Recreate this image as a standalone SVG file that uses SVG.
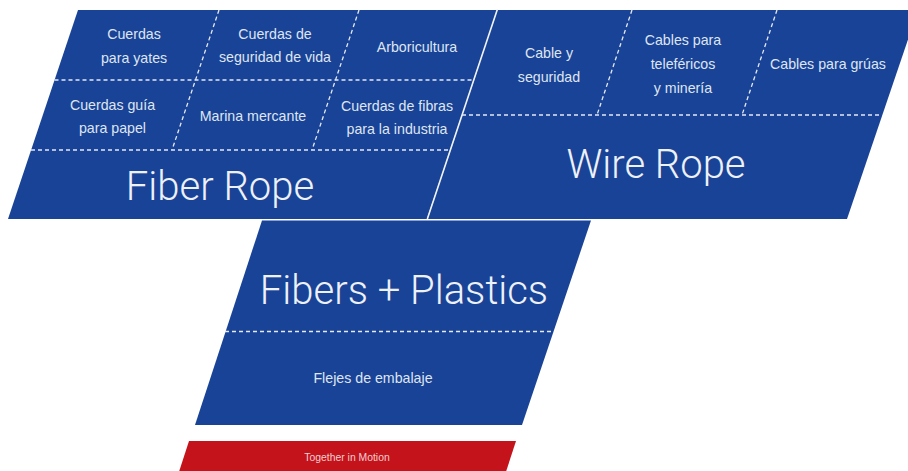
<svg xmlns="http://www.w3.org/2000/svg" width="908" height="471" viewBox="0 0 908 471">
<style>
.blue{fill:#194396}
.red{fill:#c4131a}
.dash{stroke:#e4e9f4;stroke-width:1.3;stroke-dasharray:4 3;fill:none}
.sep{stroke:#f2f4f8;stroke-width:1.6;fill:none}
.sm{font-family:"Liberation Sans",Arial,sans-serif;font-size:14.2px;fill:#dfe5f2;text-anchor:middle}
.big{font-family:Roboto,"Liberation Sans",sans-serif;font-weight:300;font-size:40px;fill:#eef1f8;text-anchor:middle}
.tag{font-family:"Liberation Sans",Arial,sans-serif;font-size:10.4px;fill:#f1d0d2;text-anchor:middle}
</style>
<rect width="908" height="471" fill="#ffffff"/>
<g id="fiber-rope">
<polygon class="blue" points="78,10 497,10 427,219 8,219"/>
<text class="sm" x="134" y="39">Cuerdas</text>
<text class="sm" x="134" y="63">para yates</text>
<text class="sm" x="275" y="39">Cuerdas de</text>
<text class="sm" x="275" y="62">seguridad de vida</text>
<text class="sm" x="417" y="51.5">Arboricultura</text>
<text class="sm" x="112.5" y="109.5">Cuerdas guía</text>
<text class="sm" x="112.5" y="133">para papel</text>
<text class="sm" x="253" y="121">Marina mercante</text>
<text class="sm" x="397" y="111">Cuerdas de fibras</text>
<text class="sm" x="397" y="134">para la industria</text>
<text class="big" x="220" y="200">Fiber Rope</text>
</g>
<g id="wire-rope">
<polygon class="blue" points="497,10 918,10 847,219 427,219"/>
<text class="sm" x="549" y="58">Cable y</text>
<text class="sm" x="549" y="82">seguridad</text>
<text class="sm" x="683" y="45">Cables para</text>
<text class="sm" x="683" y="69">teleféricos</text>
<text class="sm" x="683" y="93">y minería</text>
<text class="sm" x="828" y="68.5">Cables para grúas</text>
<text class="big" x="656" y="178">Wire Rope</text>
</g>
<g id="fibers-plastics">
<polygon class="blue" points="262,220.5 591,220.5 522,425 195,425"/>
<text class="big" x="404" y="304">Fibers + Plastics</text>
<text class="sm" x="373" y="382.5">Flejes de embalaje</text>
</g>
<g id="together-in-motion">
<polygon class="red" points="189,441 516,441 503,481 176,481"/>
<text class="tag" x="347" y="460.5">Together in Motion</text>
</g>
<g id="connectors">
<line class="sep" x1="497.5" y1="9" x2="427.3" y2="219"/>
<line class="dash" x1="54.5" y1="80" x2="473.5" y2="80"/>
<line class="dash" x1="31" y1="150" x2="450" y2="150"/>
<line class="dash" x1="219" y1="10" x2="172" y2="150"/>
<line class="dash" x1="359" y1="10" x2="312" y2="150"/>
<line class="dash" x1="462" y1="115" x2="882" y2="115"/>
<line class="dash" x1="632" y1="10" x2="597" y2="115"/>
<line class="dash" x1="777" y1="10" x2="742" y2="115"/>
<line class="dash" x1="225" y1="331.5" x2="553.5" y2="331.5"/>
</g>
</svg>
